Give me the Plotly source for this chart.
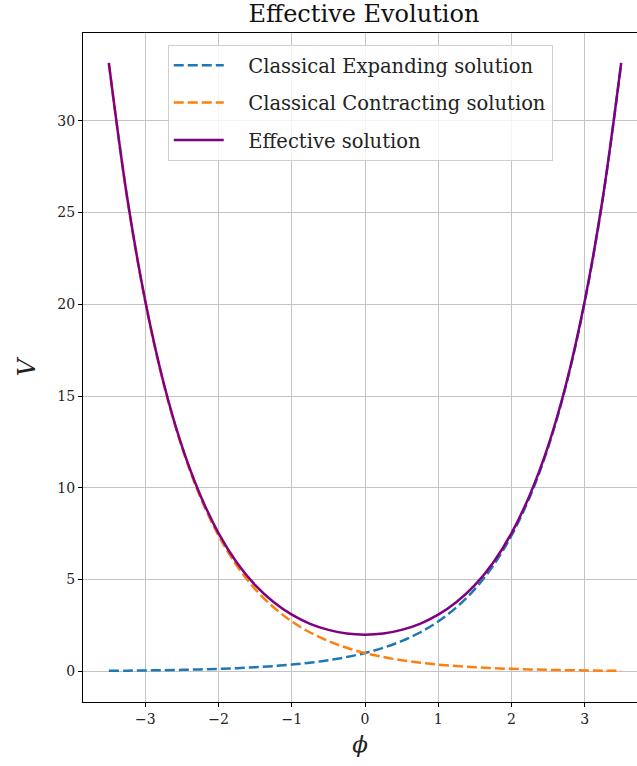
import plotly.graph_objects as go

phi = [-3.5, -3.25, -3.0, -2.75, -2.5, -2.25, -2.0, -1.75, -1.5, -1.25, -1.0, -0.75,
       -0.5, -0.25, 0.0, 0.25, 0.5, 0.75, 1.0, 1.25, 1.5, 1.75, 2.0, 2.25, 2.5, 2.75,
       3.0, 3.25, 3.5]
v_expanding = [0.03, 0.039, 0.05, 0.064, 0.082, 0.105, 0.135, 0.174, 0.223, 0.287, 0.368,
               0.472, 0.607, 0.779, 1.0, 1.284, 1.649, 2.117, 2.718, 3.49, 4.48, 5.75,
               7.39, 9.49, 12.18, 15.64, 20.09, 25.79, 33.12]
v_contracting = [33.12, 25.79, 20.09, 15.64, 12.18, 9.49, 7.39, 5.75, 4.48, 3.49, 2.718,
                 2.117, 1.649, 1.284, 1.0, 0.779, 0.607, 0.472, 0.368, 0.287, 0.223, 0.174,
                 0.135, 0.105, 0.082, 0.064, 0.05, 0.039, 0.03]
v_effective = [33.15, 25.83, 20.14, 15.70, 12.26, 9.60, 7.52, 5.92, 4.70, 3.78, 3.09, 2.59,
               2.26, 2.06, 2.0, 2.06, 2.26, 2.59, 3.09, 3.78, 4.70, 5.92, 7.52, 9.60, 12.26,
               15.70, 20.14, 25.83, 33.15]
series_names = ["Classical Expanding solution", "Classical Contracting solution",
                "Effective solution"]

x_ticks = [-3, -2, -1, 0, 1, 2, 3]
x_ticktext = ["\u22123", "\u22122", "\u22121", "0", "1", "2", "3"]
y_ticks = [0, 5, 10, 15, 20, 25, 30]

FONT = "DejaVu Serif"
PAD = "\u2002\u2002"  # visual gap between legend line and its label

fig = go.Figure()
fig.add_trace(go.Scatter(x=phi, y=v_expanding, mode="lines", name=PAD + series_names[0],
                         line=dict(color="#1f77b4", width=2.5, dash="10px,4px", shape="spline"),
                         legendgroup="a"))
fig.add_trace(go.Scatter(x=phi, y=v_contracting, mode="lines", name=PAD + series_names[1],
                         line=dict(color="#ff7f0e", width=2.5, dash="10px,4px", shape="spline"),
                         legendgroup="b"))
fig.add_trace(go.Scatter(x=phi, y=v_effective, mode="lines", name=PAD + series_names[2],
                         line=dict(color="#800080", width=2.5, shape="spline"),
                         legendgroup="c"))

fig.update_layout(
    width=637, height=766,
    margin=dict(l=83, r=0, t=33, b=64),
    plot_bgcolor="white", paper_bgcolor="white",
    font=dict(family=FONT, size=14, color="#222"),
    title=dict(text="Effective Evolution", x=364 / 637, xanchor="center",
               y=1 - 14 / 766, yanchor="middle", font=dict(size=24, family=FONT, color="#111")),
    showlegend=True,
    legend=dict(x=0.153, y=0.982, xanchor="left", yanchor="top",
                bgcolor="rgba(255,255,255,0.8)", bordercolor="#d0d0d0", borderwidth=1,
                font=dict(size=19.5, family=FONT, color="#222"),
                itemwidth=50,
                tracegroupgap=9, traceorder="grouped"),
    xaxis=dict(range=[-3.853, 3.716], tickvals=x_ticks, ticktext=x_ticktext,
               showgrid=True, gridcolor="#c4c4c4", gridwidth=1,
               showline=True, linecolor="black", linewidth=1, mirror=True,
               ticks="outside", ticklen=4, tickcolor="black", zeroline=False,
               title=dict(text="<i>\u03d5</i>", font=dict(size=23, family=FONT), standoff=10)),
    yaxis=dict(range=[-1.67, 34.78], tickvals=y_ticks,
               showgrid=True, gridcolor="#c4c4c4", gridwidth=1,
               showline=True, linecolor="black", linewidth=1, mirror=False,
               ticks="outside", ticklen=4, tickcolor="black", zeroline=False,
               title=dict(text="<i>V</i>", font=dict(size=24, family=FONT), standoff=14)),
)

fig.write_html("out.html")
